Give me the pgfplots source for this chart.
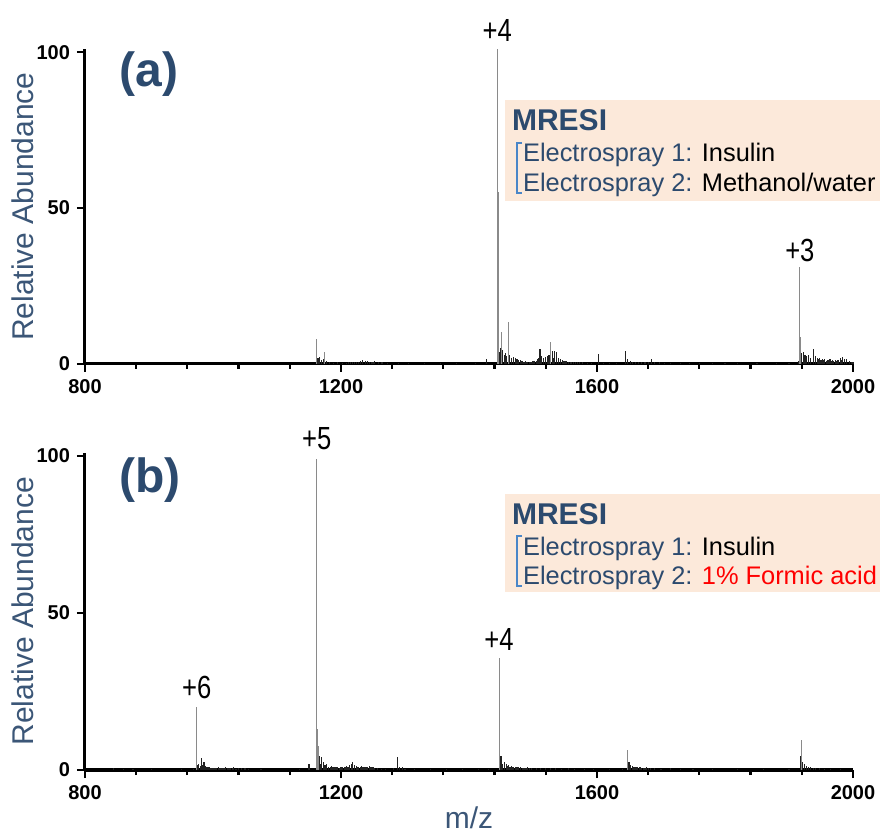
\documentclass[border=0pt]{standalone}
\usepackage{pgfplots}
\pgfplotsset{compat=1.18}
\usepackage{fontspec}
\setmainfont{Liberation Sans}
\newfontfamily\narrowfont[FakeStretch=0.8]{Liberation Sans}

\definecolor{msBlue}{HTML}{2C4A6E}
\definecolor{msLabel}{HTML}{3B5677}
\definecolor{msBox}{HTML}{FCE9DA}
\definecolor{msBracket}{HTML}{4A86C8}
\definecolor{msPeak}{HTML}{8A8A8A}
\definecolor{msNoise}{HTML}{222222}

\pgfplotsset{
  ms/.style={
    scale only axis, width=384pt, height=157.5pt,
    xmin=800, xmax=2000, ymin=0, ymax=101,
    axis lines=left, axis line style={line width=1.5pt, -},
    xtick={800,1200,1600,2000}, minor x tick num=4, ytick={0,50,100},
    tick align=outside, major tick length=4pt, minor tick length=2.5pt,
    tick style={black, line width=1.1pt},
    ticklabel style={font=\fontsize{10}{12}\selectfont\bfseries},
    /pgf/number format/assume math mode=true,
    /pgf/number format/set thousands separator={},
    clip=false,
    ylabel={Relative Abundance},
    ylabel style={at={(axis description cs:-0.0807,0.5)}, anchor=center,
                  font=\fontsize{15}{18}\selectfont, text=msLabel},
  },
  peak/.style={ycomb, mark=none, draw=msPeak, line width=0.5pt},
  noise/.style={ycomb, mark=none, draw=msNoise, line width=0.55pt},
}
\tikzset{
  charge/.style={font=\narrowfont\fontsize{16}{19}\selectfont},
  panel/.style={font=\fontsize{24}{28}\selectfont\bfseries, text=msBlue},
  boxhead/.style={anchor=base west, inner sep=0pt, font=\fontsize{15}{18}\selectfont\bfseries, text=msBlue},
  boxline/.style={anchor=base west, inner sep=0pt, font=\fontsize{12.7}{15}\selectfont, text=msBlue},
}

\begin{document}
\begin{tikzpicture}
\path[use as bounding box] (-42.5pt,-235.5pt) rectangle (397.5pt,182pt);

% (a) methanol/water
\begin{axis}[ms, at={(0pt,0pt)}]
\addplot[noise] coordinates {
 (1164,2.0) (1167,2.4) (1170,1.2) (1173,1.6) (1178,1.0) (1182,0.5) (1188,0.4) (1195,0.5)
 (1203,0.3) (1208,0.4) (1212,0.6) (1215,0.5) (1218,0.8) (1221,0.6) (1224,0.7) (1227,0.8)
 (1230,1.0) (1234,1.2) (1238,0.9) (1242,1.1) (1245,0.7) (1247,0.8) (1250,0.6) (1252,0.9)
 (1258,0.6) (1264,0.5) (1272,0.3) (1290,0.3) (1305,0.2) (1330,0.3)
 (1355,0.2) (1380,0.2) (1410,0.3) (1428,1.5)
 (1446,6.0) (1447,4.0) (1449,5.0) (1453,4.5) (1455,3.0) (1457,3.5) (1459,2.5) (1463,3.0)
 (1466,2.0) (1469,2.2) (1472,1.8) (1475,1.5) (1478,1.2) (1480,1.3) (1482,1.0) (1484,0.9)
 (1486,0.8) (1488,0.9) (1490,0.7) (1492,0.8) (1494,0.8) (1496,0.7) (1498,0.6) (1500,1.0)
 (1503,0.9) (1505,1.1) (1507,1.5) (1509,1.8) (1511,4.7) (1513,2.5) (1516,1.8) (1519,2.2)
 (1522,2.6) (1525,3.0) (1527,1.6) (1530,4.2) (1532,2.0) (1534,4.2) (1537,4.0) (1540,2.0)
 (1543,1.5) (1546,1.2) (1548,1.1) (1550,1.0) (1553,0.9) (1555,0.8) (1558,0.8) (1560,0.7)
 (1563,0.6) (1566,0.6) (1569,0.5) (1572,0.5) (1578,0.5) (1585,0.4)
 (1592,0.3) (1602,3.1) (1610,0.3) (1620,0.4) (1630,0.3) (1645,4.3) (1648,1.5) (1652,1.0)
 (1656,0.8) (1660,0.7) (1665,0.6) (1670,0.5) (1675,0.5) (1680,0.8) (1685,1.5) (1690,0.7)
 (1697,0.5) (1705,0.4) (1715,0.3) (1730,0.3) (1745,0.2) (1760,0.3) (1780,0.2) (1800,0.3)
 (1820,0.2) (1850,0.3) (1880,0.2) (1900,0.3) (1915,1.0)
 (1920,3.5) (1922,4.0) (1925,3.0) (1928,2.5) (1931,2.8) (1934,2.0) (1938,4.7) (1941,2.5)
 (1944,2.0) (1946,1.6) (1948,1.8) (1950,1.4) (1952,1.5) (1954,1.2) (1956,1.6) (1958,1.1)
 (1960,1.3) (1962,1.2) (1964,1.5) (1966,1.1) (1968,1.2) (1970,1.0) (1972,1.4) (1974,1.1)
 (1976,1.3) (1978,1.2) (1980,1.8) (1982,1.4) (1984,2.2) (1987,1.6) (1990,1.5) (1994,1.0)
 (1997,0.8) (2000,0.5)
};
\addplot[peak] coordinates {
 (1162,7.9) (1175,3.9) (1444,101) (1445.5,55) (1451,10.4) (1461,13.6) (1528,7.0)
 (1917,31) (1918.5,8.8)
};
\node[charge] at (axis cs:1444,107) {+4};
\node[charge] at (axis cs:1917,36.5) {+3};
\node[panel] at (axis cs:900,93) {(a)};
\fill[msBox] (axis cs:1456,52.2) rectangle (axis cs:2042,84.6);
\node[boxhead] at (axis cs:1466.7,75) {MRESI};
\node[boxline] at (axis cs:1483.9,64.8) {Electrospray 1: \textcolor{black}{Insulin}};
\node[boxline] at (axis cs:1483.9,55.2) {Electrospray 2: \textcolor{black}{Methanol/water}};
\draw[msBracket, line width=1pt] (axis cs:1483,70.8) -- (axis cs:1475,70.8)
  -- (axis cs:1475,54.8) -- (axis cs:1483,54.8);
\end{axis}

% (b) 1% formic acid
\begin{axis}[ms, at={(0pt,-203pt)}, height=158.7pt,
  xlabel={m/z},
  xlabel style={at={(axis description cs:0.5,0)}, anchor=base, yshift=-29.5pt,
                font=\fontsize{15}{18}\selectfont, text=msLabel}]
\addplot[noise] coordinates {
 (844,0.5) (860,0.3) (875,0.3) (904,0.4) (951,0.3) (969,0.4)
 (976,1.5) (978,2.0) (980,1.2) (982,3.7) (984,1.5) (986,2.6) (988,1.2) (990,1.1) (991,1.0)
 (993,0.9) (994,0.8) (996,0.7) (997,0.6) (1000,0.7) (1002,0.6) (1004,0.5) (1006,0.7)
 (1008,0.8) (1010,0.6) (1012,0.6) (1014,0.7) (1016,0.5) (1018,0.6) (1020,0.9) (1022,0.6)
 (1024,0.7) (1026,0.6) (1028,0.5) (1030,0.6) (1032,0.8) (1036,0.4) (1040,0.6) (1044,0.5)
 (1050,0.5) (1056,0.3) (1075,0.3) (1135,0.3) (1150,1.8)
 (1166,4.5) (1168,2.0) (1170,4.0) (1172,2.5) (1175,1.5) (1178,2.0) (1181,1.0) (1183,1.1)
 (1185,1.2) (1187,0.9) (1189,0.8) (1191,0.9) (1193,1.0) (1195,0.8) (1197,0.7) (1199,0.8)
 (1201,0.9) (1203,0.8) (1205,1.0) (1207,0.9) (1209,1.2) (1211,1.0) (1213,1.5) (1216,2.0)
 (1218,2.7) (1221,1.5) (1224,1.2) (1226,1.0) (1228,1.0) (1230,0.9) (1232,1.3) (1234,0.9)
 (1236,0.8) (1238,0.9) (1240,1.0) (1242,0.8) (1244,1.2) (1246,0.9) (1248,0.9) (1250,0.8)
 (1252,0.7) (1257,0.5) (1263,0.4) (1270,0.3) (1282,0.6) (1288.6,4.0) (1292,1.0)
 (1296,0.8) (1300,0.4) (1315,0.3) (1340,0.3) (1365,0.2) (1390,0.3) (1415,0.2) (1430,0.3)
 (1450,4.4) (1452,2.0) (1455,2.5) (1458,1.8) (1460,1.4) (1462,1.5) (1464,1.1) (1466,1.2)
 (1468,1.0) (1470,1.0) (1472,0.9) (1475,0.9) (1478,0.8) (1480,0.8) (1483,0.7) (1486,0.7)
 (1489,0.7) (1492,0.8) (1495,0.6) (1498,0.6) (1505,0.6) (1512,0.5) (1520,0.7) (1527,0.5)
 (1535,0.6) (1545,0.4) (1555,0.5) (1565,0.3) (1580,0.4) (1595,0.3) (1620,0.3) (1640,0.3)
 (1650,2.5) (1652,1.5) (1655,1.2) (1657,1.0) (1659,1.0) (1661,0.9) (1663,0.9) (1666,0.8)
 (1668,0.8) (1670,0.7) (1673,0.7) (1675,0.7) (1678,0.8) (1681,0.6)
 (1684,0.6) (1690,0.5) (1700,0.4) (1715,0.5) (1730,0.3) (1750,0.3) (1780,0.2) (1820,0.2)
 (1860,0.3) (1900,0.2)
 (1918,4.5) (1921,2.5) (1924,1.8) (1927,1.2) (1930,1.0) (1934,0.9) (1938,0.7) (1942,0.6)
 (1948,0.5) (1955,0.4) (1965,0.3) (1980,0.3)
};
\addplot[peak] coordinates {
 (974.5,20.1) (1162,99) (1163.5,12.9) (1164.5,7.5) (1447,35.5) (1448,11.9)
 (1648,6.4) (1919,9.5)
};
\node[charge] at (axis cs:1162,105.3) {+5};
\node[charge] at (axis cs:974.5,26.4) {+6};
\node[charge] at (axis cs:1447,41.4) {+4};
\node[panel] at (axis cs:901.6,92.3) {(b)};
\fill[msBox] (axis cs:1456,56.6) rectangle (axis cs:2042,87.7);
\node[boxhead] at (axis cs:1466.7,78.2) {MRESI};
\node[boxline] at (axis cs:1483.9,68.4) {Electrospray 1: \textcolor{black}{Insulin}};
\node[boxline] at (axis cs:1483.9,58.9) {Electrospray 2: \textcolor{red}{1\% Formic acid}};
\draw[msBracket, line width=1pt] (axis cs:1483,74.5) -- (axis cs:1475,74.5)
  -- (axis cs:1475,58.5) -- (axis cs:1483,58.5);
\end{axis}
\end{tikzpicture}
\end{document}
